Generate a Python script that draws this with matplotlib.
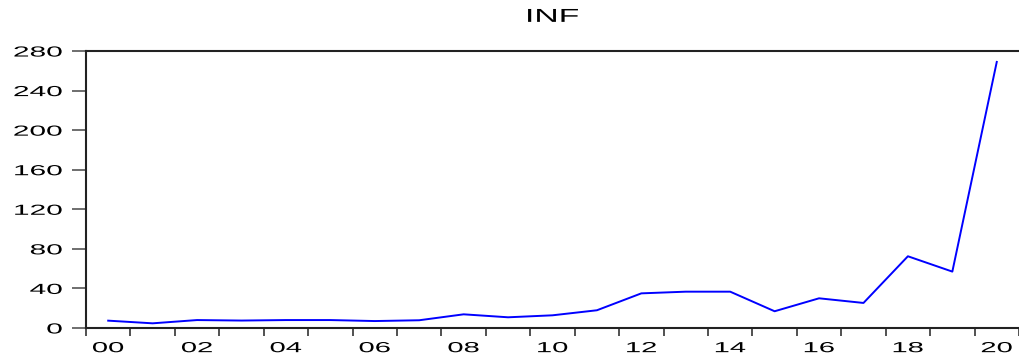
import numpy as np
import matplotlib.pyplot as plt
from matplotlib.ticker import FixedLocator, NullFormatter
from matplotlib.patheffects import AbstractPathEffect
from matplotlib.transforms import Affine2D

# annual series, plotted at mid-year
years = list(range(2000, 2021))
inf = [7.4, 4.7, 8.0, 7.5, 8.0, 8.0, 7.0, 7.8, 13.8, 10.8, 12.8, 17.9,
       35.0, 36.7, 36.7, 16.9, 30.0, 25.3, 72.5, 57.0, 269.0]
year_labels = ["00", "02", "04", "06", "08", "10", "12", "14", "16", "18", "20"]
y_ticks = [0, 40, 80, 120, 160, 200, 240, 280]


# EViews export has horizontally stretched lettering; widen glyphs around an anchor
class Stretch(AbstractPathEffect):
    def __init__(self, sx, anchor):
        super().__init__()
        self.sx = sx
        self.anchor = anchor

    def draw_path(self, renderer, gc, tpath, affine, rgbFace=None):
        ext = tpath.get_extents()
        cx = ext.x0 + (ext.x1 - ext.x0) * self.anchor
        t = Affine2D().translate(-cx, 0).scale(self.sx, 1).translate(cx, 0)
        renderer.draw_path(gc, tpath, t + affine, rgbFace)


plt.rcParams["font.family"] = ["Liberation Sans", "DejaVu Sans"]

fig = plt.figure(figsize=(10.2, 3.62), dpi=100)
ax = fig.add_axes([0.0843, 0.094, 0.9147, 0.765])

x = np.array(years) + 0.5
ax.plot(x, inf, color="#0000ff", linewidth=1.4)

ax.set_xlim(2000, 2021)
ax.set_ylim(0, 280)

# year boundaries get tick marks, labels sit in the middle of even years
ax.xaxis.set_major_locator(FixedLocator(years + [2021]))
ax.xaxis.set_major_formatter(NullFormatter())
ax.xaxis.set_minor_locator(FixedLocator([y + 0.5 for y in years[::2]]))
ax.set_xticklabels(year_labels, minor=True)
ax.tick_params(axis="x", which="major", direction="out", length=6, width=1.2, color="#333333")
ax.tick_params(axis="x", which="minor", length=0, pad=9.5, labelsize=10.5)

ax.set_yticks(y_ticks)
ax.tick_params(axis="y", direction="out", length=10, width=1.2, color="#555555", pad=7, labelsize=10.5)

for side in ["left", "top", "bottom"]:
    ax.spines[side].set_linewidth(1.5)
    ax.spines[side].set_color("#222222")
ax.spines["right"].set_visible(False)

title = ax.set_title("INF", fontsize=13.5, pad=21)

fig.canvas.draw()
for lbl in ax.get_yticklabels():
    lbl.set_path_effects([Stretch(2.05, 1.0)])
for lbl in ax.get_xticklabels(minor=True):
    lbl.set_path_effects([Stretch(2.0, 0.5)])
title.set_path_effects([Stretch(1.8, 0.5)])

fig.savefig("out.png", dpi=100)
